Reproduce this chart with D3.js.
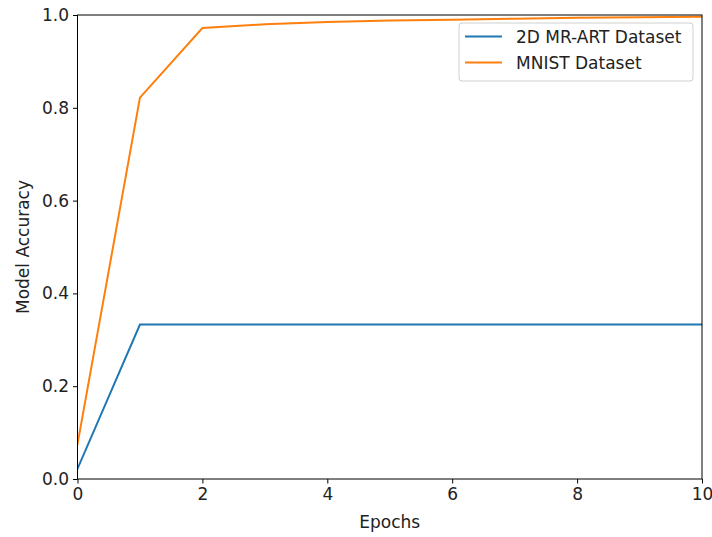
<!DOCTYPE html>
<html>
<head>
<meta charset="utf-8">
<script src="https://cdn.jsdelivr.net/npm/d3@7"></script>
<style>
  body { margin: 0; background: #fff; }
  svg { font-family: "DejaVu Sans", sans-serif; }
</style>
</head>
<body>
<div id="chart"></div>
<script>
// values
const epochs = [0, 1, 2, 3, 4, 5, 6, 7, 8, 9, 10];
const mrart = [0.022, 0.333, 0.333, 0.333, 0.333, 0.333, 0.333, 0.333, 0.333, 0.333, 0.333];
const mnist = [0.075, 0.822, 0.972, 0.980, 0.985, 0.988, 0.990, 0.992, 0.994, 0.995, 0.996];
const seriesNames = ["2D MR-ART Dataset", "MNIST Dataset"];
const colors = ["#1f77b4", "#ff7f0e"];
const xTicks = [0, 2, 4, 6, 8, 10];
const yTicks = [0.0, 0.2, 0.4, 0.6, 0.8, 1.0];

const width = 712, height = 537;
const margin = { top: 15, right: 10, bottom: 58, left: 77.5 };
const w = width - margin.left - margin.right;
const h = height - margin.top - margin.bottom;
const fs = 17;

const svg = d3.select('#chart').append('svg')
    .attr('width', width)
    .attr('height', height);

const g = svg.append('g')
    .attr('transform', `translate(${margin.left},${margin.top})`);

const x = d3.scaleLinear().domain([0, 10]).range([0, w]);
const y = d3.scaleLinear().domain([0, 1]).range([h, 0]);

// lines, clipped to plot area
g.append('clipPath').attr('id', 'clip')
  .append('rect').attr('width', w).attr('height', h);

const line = d3.line()
    .x((d, i) => x(epochs[i]))
    .y(d => y(d));

[mrart, mnist].forEach((s, k) => {
  g.append('path')
      .datum(s)
      .attr('clip-path', 'url(#clip)')
      .attr('fill', 'none')
      .attr('stroke', colors[k])
      .attr('stroke-width', 2)
      .attr('stroke-linecap', 'square')
      .attr('d', line);
});

// axes
const xAxis = g.append('g')
    .attr('transform', `translate(0,${h})`)
    .call(d3.axisBottom(x).tickValues(xTicks).tickFormat(d3.format('d')).tickSize(4.5).tickPadding(4));
const yAxis = g.append('g')
    .call(d3.axisLeft(y).tickValues(yTicks).tickFormat(d3.format('.1f')).tickSize(4.5).tickPadding(4));

[xAxis, yAxis].forEach(a => {
  a.selectAll('text').attr('font-size', fs).attr('fill', '#222').attr('font-family', '"DejaVu Sans", sans-serif');
  a.selectAll('line').attr('stroke', '#000').attr('stroke-width', 1);
  a.select('.domain').remove();
});

// frame
g.append('rect')
    .attr('width', w).attr('height', h)
    .attr('fill', 'none')
    .attr('stroke', '#000')
    .attr('stroke-width', 1);

// axis labels
svg.append('text')
    .attr('x', margin.left + w / 2)
    .attr('y', 528)
    .attr('text-anchor', 'middle')
    .attr('font-size', fs)
    .attr('fill', '#222')
    .text('Epochs');

svg.append('text')
    .attr('transform', `translate(29,${margin.top + h / 2}) rotate(-90)`)
    .attr('text-anchor', 'middle')
    .attr('font-size', fs)
    .attr('fill', '#222')
    .text('Model Accuracy');

// legend
const lg = svg.append('g').attr('transform', 'translate(459,23)');
lg.append('rect')
    .attr('width', 234).attr('height', 58)
    .attr('rx', 3)
    .attr('fill', '#fff').attr('fill-opacity', 0.8)
    .attr('stroke', '#d0d0d0');

seriesNames.forEach((name, i) => {
  const yy = 13.5 + i * 26;
  lg.append('line')
      .attr('x1', 6).attr('x2', 43)
      .attr('y1', yy).attr('y2', yy)
      .attr('stroke', colors[i]).attr('stroke-width', 2);
  lg.append('text')
      .attr('x', 57).attr('y', yy + 6)
      .attr('font-size', fs)
      .attr('fill', '#222')
      .text(name);
});
</script>
</body>
</html>
